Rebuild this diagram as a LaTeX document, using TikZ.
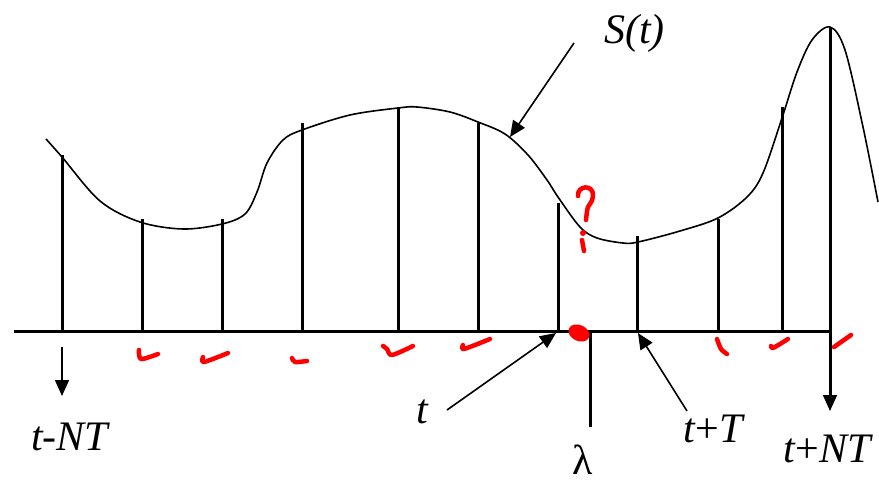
\documentclass[tikz,border=0pt]{standalone}
\usepackage{fontspec}
\setmainfont{Liberation Serif}
\usetikzlibrary{arrows.meta}
\begin{document}
\begin{tikzpicture}[x=1pt,y=-1pt,
  stem/.style={line width=3pt},
  curve/.style={line width=1.6pt, line join=round},
  lbl/.style={inner sep=0pt, anchor=base west, font=\fontsize{42}{48}\selectfont},
  pointer/.style={line width=1.6pt, -{Triangle[length=16pt,width=14pt]}},
  redmark/.style={red, line width=4.5pt, line cap=round, line join=round}]
\useasboundingbox (0,0) rectangle (879,482);
% signal curve
\draw[curve] plot[smooth, tension=0.55] coordinates {
 (46,139) (62,157) (100,201) (140,222) (183,229) (222,224) (245,214) (257,192)
 (267,163) (283,140) (302,130) (350,115) (398,108) (417,107) (450,112) (478,122)
 (505,134) (528,155) (547,180) (558,197) (580,227) (597,238) (623,243) (638,242)
 (680,231) (718,218) (747,197) (763,173) (782,118) (797,72) (812,40) (830,27)
 (845,50) (863,127) (878,202)};
% axis
\draw[stem] (14,331) -- (830,331);
% stems
\foreach \x/\y in {62/155,142/219,222/219,302/123,398/107,478/123,558/203,637/236,718/219,782/107}
  \draw[stem] (\x,331) -- (\x,\y);
\draw[stem] (830,27) -- (830,396);
\draw[stem] (590,331) -- (590,427);
% arrow heads at ends
\coordinate (a1s) at (62,347);
\coordinate (a1e) at (62,396);
\draw[pointer] (a1s) -- (a1e);
\coordinate (a2s) at (830,390);
\coordinate (a2e) at (830,411);
\draw[pointer] (a2s) -- (a2e);
% labels
\node[lbl] (tnt) at (31,450) {\itshape t-NT};
\node[lbl] (t) at (416,423) {\itshape t};
\node[lbl] (ttp) at (683,442) {\textit{t}+\textit{T}};
\node[lbl] (tntp) at (783,462) {\textit{t}+\textit{NT}};
\node[lbl] (lam) at (572,474) {λ};
\node[lbl] (st) at (604,43) {\itshape S(t)};
% pointer arrows
\coordinate (ps1) at (447,410);
\coordinate (pe1) at (556,333);
\draw[pointer] (ps1) -- (pe1);
\coordinate (ps2) at (687,411);
\coordinate (pe2) at (638,333);
\draw[pointer] (ps2) -- (pe2);
\coordinate (ps3) at (574,43);
\coordinate (pe3) at (510,137);
\draw[pointer] (ps3) -- (pe3);
% red handwritten marks
\draw[redmark] plot[smooth] coordinates {(139,350) (141,359) (158,354)};
\draw[redmark] plot[smooth] coordinates {(203,357) (204,362) (228,353)};
\draw[redmark] plot[smooth] coordinates {(292,358) (295,362) (307,361)};
\draw[redmark] plot[smooth] coordinates {(383,346) (387,349) (392,355) (413,346)};
\draw[redmark] plot[smooth] coordinates {(463,345) (464,349) (490,339)};
\draw[redmark] plot[smooth] coordinates {(717,339) (721,349) (727,354)};
\draw[redmark] plot[smooth] coordinates {(771,346) (773,348) (788,339)};
\draw[redmark] (834,347) -- (851,335);
\fill[red, rotate around={-25:(579,333)}] (579,333) ellipse [x radius=11, y radius=8];
\draw[redmark] (578,196) .. controls (577,185) and (594,184) .. (593,196)
  .. controls (593,203) and (587,205) .. (587,211) -- (586,220);
\fill[red] (583,233) circle (3);
\draw[redmark] (582,240) -- (584,251);
\end{tikzpicture}
\end{document}
